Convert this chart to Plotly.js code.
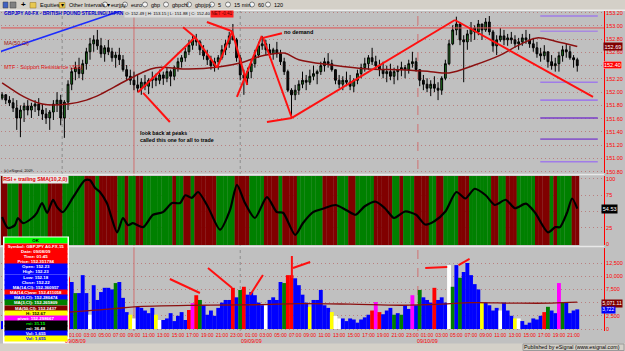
<!DOCTYPE html>
<html><head><meta charset="utf-8">
<script src="https://cdn.plot.ly/plotly-3.0.1.min.js"></script>
<style>html,body{margin:0;padding:0;background:#c0c0c0;overflow:hidden}#chart{width:625px;height:351px}</style>
</head><body><div id="chart"></div>
<script>
// ---------- DATA (15-min chart, one entry per 30 min) ----------
const opens = [151.91,151.96,151.88,151.84,151.76,151.61,151.73,151.79,151.73,151.79,
151.82,151.73,151.67,151.61,151.70,151.82,151.88,151.61,151.85,152.12,
152.31,152.37,152.28,152.43,152.61,152.73,152.79,152.70,152.58,152.67,
152.61,152.52,152.56,152.49,152.34,152.24,152.18,152.11,152.06,152.15,
152.09,152.18,152.21,152.18,152.26,152.21,152.31,152.24,152.37,152.46,
152.52,152.61,152.71,152.79,152.76,152.64,152.55,152.49,152.40,152.46,
152.52,152.64,152.73,152.85,152.79,152.52,152.26,152.21,152.31,152.43,
152.56,152.70,152.73,152.64,152.58,152.64,152.58,152.46,152.31,152.03,
151.96,152.03,152.12,152.18,152.15,152.24,152.28,152.31,152.40,152.46,
152.43,152.34,152.18,152.12,152.18,152.15,152.09,152.18,152.28,152.37,
152.43,152.52,152.46,152.40,152.34,152.28,152.31,152.24,152.31,152.34,
152.37,152.34,152.43,152.46,152.34,152.18,152.12,152.06,152.12,152.06,
152.03,152.21,152.43,152.73,152.94,153.03,152.79,152.76,152.88,152.97,
152.91,153.03,152.94,153.06,152.91,152.70,152.79,152.85,152.79,152.82,
152.79,152.73,152.76,152.82,152.79,152.73,152.67,152.58,152.55,152.61,
152.46,152.40,152.43,152.55,152.64,152.61,152.52,152.49];
const highs = [152.00,151.97,151.94,151.91,151.88,151.80,151.84,151.88,151.84,151.88,
151.91,151.82,151.76,151.73,151.88,152.00,151.96,151.88,152.18,152.37,
152.46,152.52,152.49,152.67,152.82,152.86,152.94,152.82,152.71,152.79,
152.67,152.61,152.67,152.56,152.41,152.34,152.31,152.26,152.21,152.26,
152.21,152.31,152.28,152.34,152.31,152.37,152.34,152.40,152.52,152.56,
152.67,152.79,152.85,152.88,152.79,152.71,152.64,152.55,152.52,152.56,
152.71,152.79,152.91,153.03,152.82,152.56,152.34,152.37,152.49,152.64,
152.76,152.85,152.79,152.73,152.67,152.76,152.64,152.52,152.34,152.06,
152.11,152.18,152.31,152.26,152.34,152.40,152.34,152.46,152.52,152.59,
152.49,152.34,152.26,152.24,152.31,152.26,152.21,152.34,152.43,152.52,
152.56,152.67,152.55,152.49,152.46,152.40,152.43,152.37,152.40,152.46,
152.41,152.49,152.61,152.52,152.34,152.26,152.21,152.18,152.24,152.15,
152.24,152.49,152.79,153.01,153.14,153.06,152.86,152.94,153.06,153.01,
153.09,153.03,153.12,153.15,152.94,152.86,152.97,152.94,152.88,152.91,
152.86,152.82,152.88,152.94,152.88,152.82,152.76,152.67,152.71,152.61,
152.56,152.52,152.61,152.70,152.73,152.70,152.56,152.52];
const lows = [151.88,151.82,151.79,151.70,151.43,151.32,151.55,151.65,151.61,151.70,
151.64,151.58,151.52,151.43,151.58,151.70,151.50,151.31,151.73,152.03,
152.18,152.21,152.18,152.34,152.49,152.61,152.64,152.52,152.46,152.56,
152.46,152.37,152.41,152.31,152.18,152.11,152.03,152.00,151.96,152.03,
151.97,152.06,152.09,152.12,152.11,152.15,152.09,152.18,152.31,152.37,
152.46,152.56,152.64,152.70,152.56,152.49,152.41,152.34,152.31,152.34,
152.49,152.56,152.67,152.79,152.46,152.18,151.96,152.11,152.21,152.37,
152.52,152.64,152.56,152.52,152.49,152.52,152.41,152.26,152.00,151.65,
151.88,151.96,152.06,152.03,152.11,152.18,152.12,152.26,152.31,152.37,
152.31,152.12,152.06,152.03,152.09,152.03,152.00,152.12,152.21,152.31,
152.34,152.41,152.34,152.24,152.21,152.15,152.18,152.12,152.18,152.24,
152.21,152.28,152.37,152.31,152.09,152.03,152.00,151.94,152.00,151.88,
151.96,152.18,152.41,152.71,152.86,152.71,152.15,152.64,152.76,152.79,
152.86,152.79,152.91,152.86,152.61,152.56,152.76,152.71,152.70,152.73,
152.67,152.64,152.70,152.73,152.67,152.61,152.52,152.46,152.49,152.37,
152.34,152.31,152.31,152.46,152.52,152.49,152.37,152.31];
const closes = [151.96,151.88,151.84,151.76,151.61,151.73,151.79,151.73,151.79,151.82,
151.73,151.67,151.61,151.70,151.82,151.88,151.61,151.85,152.12,152.31,
152.37,152.28,152.43,152.61,152.73,152.79,152.70,152.58,152.67,152.61,
152.52,152.56,152.49,152.34,152.24,152.18,152.11,152.06,152.15,152.09,
152.18,152.21,152.18,152.26,152.21,152.31,152.24,152.37,152.46,152.52,
152.61,152.71,152.79,152.76,152.64,152.55,152.49,152.40,152.46,152.52,
152.64,152.73,152.85,152.79,152.52,152.26,152.21,152.31,152.43,152.56,
152.70,152.73,152.64,152.58,152.64,152.58,152.46,152.31,152.03,151.96,
152.03,152.12,152.18,152.15,152.24,152.28,152.31,152.40,152.46,152.43,
152.34,152.18,152.12,152.18,152.15,152.09,152.18,152.28,152.37,152.43,
152.52,152.46,152.40,152.34,152.28,152.31,152.24,152.31,152.34,152.37,
152.34,152.43,152.46,152.34,152.18,152.12,152.06,152.12,152.06,152.03,
152.21,152.43,152.73,152.94,153.03,152.79,152.76,152.88,152.97,152.91,
153.03,152.94,153.06,152.91,152.70,152.79,152.85,152.79,152.82,152.79,
152.73,152.76,152.82,152.79,152.73,152.67,152.58,152.55,152.61,152.46,
152.40,152.43,152.55,152.64,152.61,152.52,152.49,152.40];
const ma50Bars = [0,3,6,11,18,23,27,29,34,38,42,51,59,65,71,77,81,90,100,109,117,122,129,136,141,146,151,157];
const ma50 = [152.14,152.03,151.93,151.82,151.82,151.88,151.97,152.03,152.18,152.29,152.37,152.35,152.38,152.44,152.55,152.59,152.49,152.41,152.35,152.34,152.31,152.29,152.41,152.56,152.71,152.82,152.77,152.69];
const rsiBars = [0,1.6,3.5,4.3,5.7,8.2,9.5,10.9,12.3,13.9,15,16.6,19.4,22.6,24,25.4,26.7,28.6,31.4,33,34.4,35.7,38.5,41.2,43.9,46.4,48.6,50,51.8,53.5,56.2,59.5,62.2,64.1,66.3,69,72.3,75,76.7,80,82.1,84.9,88,91,94,96.5,99,102,104.5,107,110,113,115.5,118,121,124,126.5,129,132,134.5,137.5,140,143,145.5,149,151,152.3,154.2,155.6,157];
const rsi = [41.5,24.6,29,40,32,40,48,63,48,68,57,49,72,98,98,86,80,63,18,40,29,32,26,45,49,63,63,75,71,80,57,22,52,91,63,40,72,49,48,14,32,49,55,60,52,45,58,65,55,40,50,45,30,35,50,80,70,85,75,60,68,55,62,48,18,26,26,48,70,54.53];
// g = RSI above trailing SMA, r = below (one char per bar)
const rsiState = "rrgggrgggg"+"gggrrrrggg"+"gggrrrgrrr"+"rrggrggrrg"+"gggggggrgg"+"rrgrrrrrrg"+"ggggrrrrgg"+"ggrrrrgrrr"+"rgggggggrr"+"rrgggrrggg"+"ggrrrrrggr"+"gggrrrrggr"+"rggggrrrgg"+"ggggrrggrr"+"rgggggrrrr"+"grggggrr";
const volumes = [1500,2000,3500,4000,6000,7500,5000,4000,3500,3000,
4500,5000,4000,6000,5500,4500,6500,8500,9800,8900,
6800,6800,10200,6800,2700,8300,5500,7000,7800,7800,
7500,8700,8900,5900,3200,2700,2000,4200,4000,3500,
3000,4000,2700,1700,1700,2000,3000,1500,2500,3200,
1700,3600,4900,6400,5500,4500,2700,3500,2500,4000,
5000,5500,5500,7800,6000,7400,8000,6500,7000,6400,
5000,4500,4500,5500,6000,5500,8900,8700,10200,10200,
9600,8300,6500,5000,4200,5500,5500,7400,4500,4000,
3200,2500,2000,2000,1500,2000,1800,1200,1800,2200,
2700,3500,5100,3200,2800,3500,4000,2700,3000,2700,
4500,3800,6400,4500,7400,6000,5500,5000,7800,5500,
6000,5000,12100,8000,12100,9700,10800,12500,10200,8500,
7500,5100,5000,4500,3500,4000,3500,5000,3500,2500,
2000,2000,1500,800,1200,2000,1800,2500,3200,4200,
3500,3000,8700,5000,5000,3000,3500,3722];
// B blue, G green, R red, Y yellow, W white, M magenta (one char per bar)
const volState = "BBBBBBBBBB"+"BBBBBBBBRB"+"GBBBWBBBBB"+"BGBBBYWBBB"+"BBYWBBBBBB"+"BRMRGBBBBB"+"BBBRBGRBBB"+"BBWBBBBGRR"+"BBBBYBBBBB"+"YWWBBBBBBB"+"BRMRBBBGBG"+"BBMBGBBBRB"+"BBWGBGBBBB"+"BYBBBBWBBB"+"YWBBBBBBRG"+"BBMGBBBB";
const volMaBars = [18,30,36,54,70,81,95,109,120,128,140,150,157];
const volMa = [3200,3800,4200,4500,4600,4800,4700,4500,4700,5000,4900,4900,5071.11];
const hourLabels = ["01:00","03:00","05:00","07:00","09:00","11:00","13:00","15:00","17:00","19:00","21:00","23:00"];
const dateLabels = ["09/08/09","09/09/09","09/10/09"];
const dateBars = [20,68,116];
const dayLineBars = [16.4,36,65,113.5];
const resistance = 152.97;
const blueTrend = [-0.6,152.61,32.5,153.23];
const priceLines = [[37.1,152.00,52.7,152.83],[38.5,151.99,45.8,151.55],[49.4,152.98,52.7,152.83],[52.7,152.83,58.7,152.37],[58.7,152.37,62.8,152.92],[55.9,153.06,62.8,152.92],[62.8,152.92,66.9,152.11],[64.1,151.93,70.9,152.85],[71.2,152.82,76.4,152.89],[71.2,152.83,79.1,151.61],[72.3,151.55,79.1,151.61],[79.1,151.61,123.6,153.09],[123.6,153.09,161.3,151.93]];
const volLines = [[45.8,9470,54,6820],[56.2,11550,62.8,7770],[67.7,6440,71.2,10230],[79.1,13830,79.1,9660],[79.4,11550,84.1,12690],[115.5,11550,121.5,11740],[124.6,12120,127.6,13260]];
const pivotLevels = [153.15,152.92,152.15,151.88,151.61,151.29,150.95];
const pivotStart = 146.9, pivotEnd = 162.6;
const dwText = ["OK","Symbol: GBPJPY A0-FX,15","Date: 09/08/09","Time: 01:45","Price: 152.351784","Open: 152.23","High: 152.23","Low: 152.18","Close: 152.22","MA(14,Cl): 152.360957","MA(14,C)ww: 152.411058","MA(3,Cl): 152.280474","MA(3,Cl): 152.265809","MA(50,Cl): 152.2437","H: 152.67","pivot: 152.298667","rsi: 31.15","rsi: 36.48","Vol: 1,655","Vol: 1,655"];
const priceTicks = [150.8,151.0,151.2,151.4,151.6,151.8,152.0,152.2,152.4,152.6,152.8,153.0,153.2];
const rsiTicks = [0,25,50,75,100];
const volTicks = [0,2500,5000,7500,10000,12500];

// ---------- LAYOUT HELPERS ----------
const W=625,H=351,ML=1,MR=21,MT=11,MB=20,PW=W-ML-MR,PH=H-MT-MB;
const X = px => (px-ML)/PW, Y = py => (H-MB-py)/PH;
const FONT = "Liberation Sans, Arial, sans-serif";
const RED = "#ff0000";
const bars = closes.map((_,i)=>i);
const PR=[150.779,153.226], RR=[-1.54,104.6], VR=[-379,15341];

const volColorMap = {B:"#0000ff",G:"#008000",R:"#ff0000",Y:"#ffff00",W:"#ffffff",M:"#ff00ff"};
const rsiColorMap = {g:"#008000",r:"#800000"};

const tickvals=[], ticktext=[];
for (let b=20,k=0; b<=bars.length-1; b+=4,k++){ tickvals.push(b); ticktext.push(hourLabels[k%12]); }

const lastClose = closes[closes.length-1], lastMa = ma50[ma50.length-1], lastRsi = rsi[rsi.length-1];
const lastVol = volumes[volumes.length-1], lastVolMa = volMa[volMa.length-1];
const priceText = priceTicks.map(v=>Math.abs(v-lastClose)<0.06?'':v.toFixed(2));
const rsiText = rsiTicks.map(v=>Math.abs(v-lastRsi)<8?'':String(v));
const volText = volTicks.map(v=>Math.abs(v-lastVolMa)<900?'':v.toLocaleString('en-US'));

const traces = [
 {type:'candlestick', x:bars, open:opens, high:highs, low:lows, close:closes, xaxis:'x', yaxis:'y',
  increasing:{line:{color:'#000000',width:1},fillcolor:'#1f7a1f'},
  decreasing:{line:{color:'#000000',width:1},fillcolor:'#101010'}, whiskerwidth:0, hoverinfo:'skip'},
 {type:'scatter', mode:'lines', x:ma50Bars, y:ma50, xaxis:'x', yaxis:'y', line:{color:'#8b1010',width:1.5,shape:'spline',smoothing:1}, hoverinfo:'skip'},
 {type:'bar', x:bars, y:bars.map(()=>RR[1]-RR[0]), base:RR[0], width:1.06, xaxis:'x', yaxis:'y2',
  marker:{color:rsiState.split('').map(c=>rsiColorMap[c]), line:{width:0}}, hoverinfo:'skip'},
 {type:'scatter', mode:'lines', x:rsiBars, y:rsi, xaxis:'x', yaxis:'y2', line:{color:'#000000',width:2.2,shape:'spline',smoothing:0.7}, hoverinfo:'skip'},
 {type:'bar', x:bars, y:volumes, width:1.06, xaxis:'x', yaxis:'y3',
  marker:{color:volState.split('').map(c=>volColorMap[c]), line:{width:0}}, hoverinfo:'skip'},
 {type:'scatter', mode:'lines', x:volMaBars, y:volMa, xaxis:'x', yaxis:'y3', line:{color:'#8b1010',width:1.3,shape:'spline'}, hoverinfo:'skip'}
];

const shapes = [];
shapes.push({type:'rect',xref:'paper',yref:'paper',x0:X(0),x1:X(625),y0:Y(10),y1:Y(0),fillcolor:'#d4d0c8',line:{width:0},layer:'above'});
shapes.push({type:'line',xref:'paper',yref:'paper',x0:X(0),x1:X(625),y0:Y(10.2),y1:Y(10.2),line:{color:'#ffffff',width:1},layer:'above'});
shapes.push({type:'rect',xref:'paper',yref:'paper',x0:X(0),x1:X(625),y0:Y(351),y1:Y(343.5),fillcolor:'#d4d0c8',line:{width:0},layer:'above'});
shapes.push({type:'rect',xref:'paper',yref:'paper',x0:X(523),x1:X(624),y0:Y(350.5),y1:Y(344),fillcolor:'rgba(0,0,0,0)',line:{color:'#9a9a9a',width:1},layer:'above'});
[174.5,246.5].forEach(py=>shapes.push({type:'line',xref:'paper',yref:'paper',x0:X(0),x1:X(604),y0:Y(py),y1:Y(py),line:{color:'#e8e8e8',width:1.5},layer:'above'}));
const dayStyles=[{c:'#8c8c8c',d:'dot'},{c:'#d07070',d:'solid'},{c:'#8c8c8c',d:'dot'},{c:'#d07070',d:'dash'}];
dayLineBars.forEach((b,k)=>shapes.push({type:'line',xref:'x',yref:'paper',x0:b,x1:b,y0:0,y1:1,line:{color:dayStyles[k].c,width:1,dash:dayStyles[k].d},layer:'below'}));
shapes.push({type:'line',xref:'paper',yref:'y',x0:0,x1:1,y0:resistance,y1:resistance,line:{color:'#e05050',width:1},layer:'above'});
const pivCols=['#a07ce8','#a889e0','#a07ce8','#a07ce8','#7a3cc8','#8a5cc8','#a07ce8'];
pivotLevels.forEach((v,k)=>shapes.push({type:'line',xref:'x',yref:'y',x0:pivotStart,x1:pivotEnd,y0:v,y1:v,line:{color:pivCols[k],width:1.6},layer:'above'}));
shapes.push({type:'line',xref:'x',yref:'y',x0:blueTrend[0],y0:blueTrend[1],x1:blueTrend[2],y1:blueTrend[3],line:{color:'#1c2cff',width:1.5},layer:'above'});
priceLines.forEach(l=>shapes.push({type:'line',xref:'x',yref:'y',x0:l[0],y0:l[1],x1:l[2],y1:l[3],line:{color:'#ff1010',width:2},layer:'above'}));
volLines.forEach(l=>shapes.push({type:'line',xref:'x',yref:'y3',x0:l[0],y0:l[1],x1:l[2],y1:l[3],line:{color:'#ff1010',width:2},layer:'above'}));
[[3,8,'#4060c0'],[10,16,'#808080']].forEach(r=>shapes.push({type:'rect',xref:'paper',yref:'paper',x0:X(r[0]),x1:X(r[1]),y0:Y(8),y1:Y(2),fillcolor:r[2],line:{color:'#404040',width:0.5},layer:'above'}));
[[30,36],[59,65]].forEach(r=>shapes.push({type:'rect',xref:'paper',yref:'paper',x0:X(r[0]),x1:X(r[1]),y0:Y(8),y1:Y(2.5),fillcolor:'#e8c850',line:{color:'#907020',width:0.5},layer:'above'}));
const tbItems=[[105,"eurjpy"],[125,"euro"],[145,"gbp"],[166,"gbpchf"],[189,"gbpjpy"],[212,"5"],[228,"15 min"],[252,"60"],[268,"120"]];
tbItems.forEach(t=>shapes.push({type:'circle',xref:'paper',yref:'paper',x0:X(t[0]-2.5),x1:X(t[0]+2.5),y0:Y(7),y1:Y(2),fillcolor:'#f4f4f4',line:{color:'#505050',width:0.7},layer:'above'}));
shapes.push({type:'rect',xref:'paper',yref:'paper',x0:X(3),x1:X(69),y0:Y(343.5),y1:Y(236.5),fillcolor:'#ffffff',line:{width:0},layer:'above'});

const ann = [];
const T = (px,py,text,o={}) => Object.assign({xref:'paper',yref:'paper',x:X(px),y:Y(py),text,showarrow:false,xanchor:'left',yanchor:'middle',font:{family:FONT,size:5.5,color:'#000'}},o);
dateLabels.forEach((d,k)=>ann.push({xref:'x',yref:'paper',x:dateBars[k],y:Y(341),text:d,showarrow:false,xanchor:'center',yanchor:'middle',font:{family:FONT,size:5.3,color:RED}}));
ann.push(T(38,5,"Equities ▾"));
ann.push(T(67,5,"Other Intervals ▾"));
ann.push(T(18.5,5,"+",{font:{family:FONT,size:8,color:'#000',weight:'bold'}}));
tbItems.forEach(t=>ann.push(T(t[0]+4,5,t[1])));
ann.push(T(1.5,13.8,"GBPJPY A0-FX - BRITISH POUND STERLING/JAPAN",{font:{family:FONT,size:4.8,color:'#0000d0',weight:'bold'}}));
ann.push(T(124,13.8,"O: "+opens[opens.length-1].toFixed(2)+" | H: "+Math.max(...highs.slice(116)).toFixed(2)+" | L: "+Math.min(...lows.slice(116)).toFixed(2)+" | C: "+lastClose.toFixed(2),{bgcolor:'#dcdcdc',borderpad:0.3,font:{family:FONT,size:4.3,color:'#000'}}));
ann.push(T(210,13.8,"NET -0.41",{bgcolor:'#ff2020',borderpad:0.3,font:{family:FONT,size:4.6,color:'#600000'}}));
ann.push(T(2,43,"MA(50,Cl)",{font:{family:FONT,size:5.5,color:'#a01010'}}));
ann.push(T(2,67,"MTF - Support Resistance (320)",{font:{family:FONT,size:5.5,color:'#e01010'}}));
ann.push(T(282,32.5,"no demand",{font:{family:FONT,size:5.5,color:'#000',weight:'bold'}}));
ann.push(T(138,133,"look back at peaks",{font:{family:FONT,size:5.3,color:'#000',weight:'bold'}}));
ann.push(T(138,140,"called this one for all to trade",{font:{family:FONT,size:5.3,color:'#000',weight:'bold'}}));
ann.push(T(2,171,"(c) eSignal, 2009",{font:{family:FONT,size:3.8,color:'#202020'}}));
ann.push(T(2,179.5,"RSI + trailing SMA(10,2,0)",{bgcolor:'#e8e8e8',borderpad:0.3,font:{family:FONT,size:5.3,color:'#e00000',weight:'bold'}}));
ann.push(T(603,46,lastMa.toFixed(2),{bgcolor:'#800000',borderpad:0.5,font:{family:FONT,size:5.5,color:'#ffffff'}}));
ann.push(T(603,65,lastClose.toFixed(2),{bgcolor:'#ff0000',bordercolor:'#ffc0c0',borderwidth:0.5,borderpad:0.5,font:{family:FONT,size:5.5,color:'#ffffff'}}));
ann.push(T(601,209,lastRsi.toFixed(2),{bgcolor:'#000000',borderpad:0.8,font:{family:FONT,size:5.5,color:'#ffffff'}}));
ann.push(T(601,303,lastVolMa.toLocaleString('en-US',{minimumFractionDigits:2}),{bgcolor:'#800000',borderpad:0.4,font:{family:FONT,size:5.1,color:'#ffffff'}}));
ann.push(T(601,310,lastVol.toLocaleString('en-US'),{bgcolor:'#0000ff',borderpad:0.3,font:{family:FONT,size:4.7,color:'#ffffff'}}));
ann.push(T(622,347.3,"Published by eSignal (www.esignal.com)",{xanchor:'right',font:{family:FONT,size:5.3,color:'#000'}}));
const dwBg=["#00ff00","#ff0000","#ff0000","#ff0000","#ff0000","#0000ff","#0000ff","#0000ff","#0000ff","#0000ff","#ff0000","#0000ff","#008000","#800000","#ffff00","#ff00ff","#000000","#000000","#0000ff","#ffff00"];
const dwFg=["#000000","#ffffff","#ffffff","#ffffff","#ffffff","#ffffff","#ffffff","#ffffff","#ffffff","#ffffff","#ffffff","#ffffff","#ffffff","#ffffff","#000000","#ffffff","#00ff00","#ffffff","#ffffff","#0000ff"];
dwText.forEach((t,k)=>{
  const py = k===0 ? 240.5 : 246.2+(k-1)*5.15;
  ann.push({xref:'paper',yref:'paper',x:X(36),y:Y(py),text:t,showarrow:false,xanchor:'center',yanchor:'middle',
    width:62,height:k===0?5:5.2,borderpad:0,bgcolor:dwBg[k],font:{family:FONT,size:4.4,color:dwFg[k],weight:'bold'}});
});

const axFont = {family:FONT,size:5.5,color:RED};
const gridCol = 'rgba(185,120,120,0.9)';
const layout = {
  width:W,height:H,margin:{l:ML,r:MR,t:MT,b:MB,pad:0},
  paper_bgcolor:'#c0c0c0',plot_bgcolor:'#c0c0c0',showlegend:false,barmode:'overlay',hovermode:false,
  xaxis:{domain:[0,1],range:[-0.3,164.3],anchor:'y3',tickmode:'array',tickvals,ticktext,tickangle:0,tickfont:{family:FONT,size:5,color:RED},ticks:'',
    showgrid:false,zeroline:false,showline:false,rangeslider:{visible:false},fixedrange:true},
  yaxis:{domain:[Y(173),1],range:PR,side:'right',anchor:'x',tickmode:'array',tickvals:priceTicks,ticktext:priceText,
    tickfont:axFont,ticks:'',showgrid:true,gridcolor:gridCol,griddash:'1px,3px',zeroline:false,showline:true,linecolor:RED,linewidth:1,fixedrange:true},
  yaxis2:{domain:[Y(245),Y(176)],range:RR,side:'right',anchor:'x',tickmode:'array',tickvals:rsiTicks,ticktext:rsiText,
    tickfont:axFont,ticks:'',showgrid:true,gridcolor:gridCol,griddash:'1px,3px',zeroline:false,showline:true,linecolor:RED,linewidth:1,fixedrange:true},
  yaxis3:{domain:[0,Y(248)],range:VR,side:'right',anchor:'x',tickmode:'array',tickvals:volTicks,ticktext:volText,
    tickfont:axFont,ticks:'',showgrid:true,gridcolor:gridCol,griddash:'1px,3px',zeroline:false,showline:true,linecolor:RED,linewidth:1,fixedrange:true},
  shapes, annotations:ann
};
Plotly.newPlot('chart',traces,layout,{staticPlot:true,displayModeBar:false});
</script></body></html>
